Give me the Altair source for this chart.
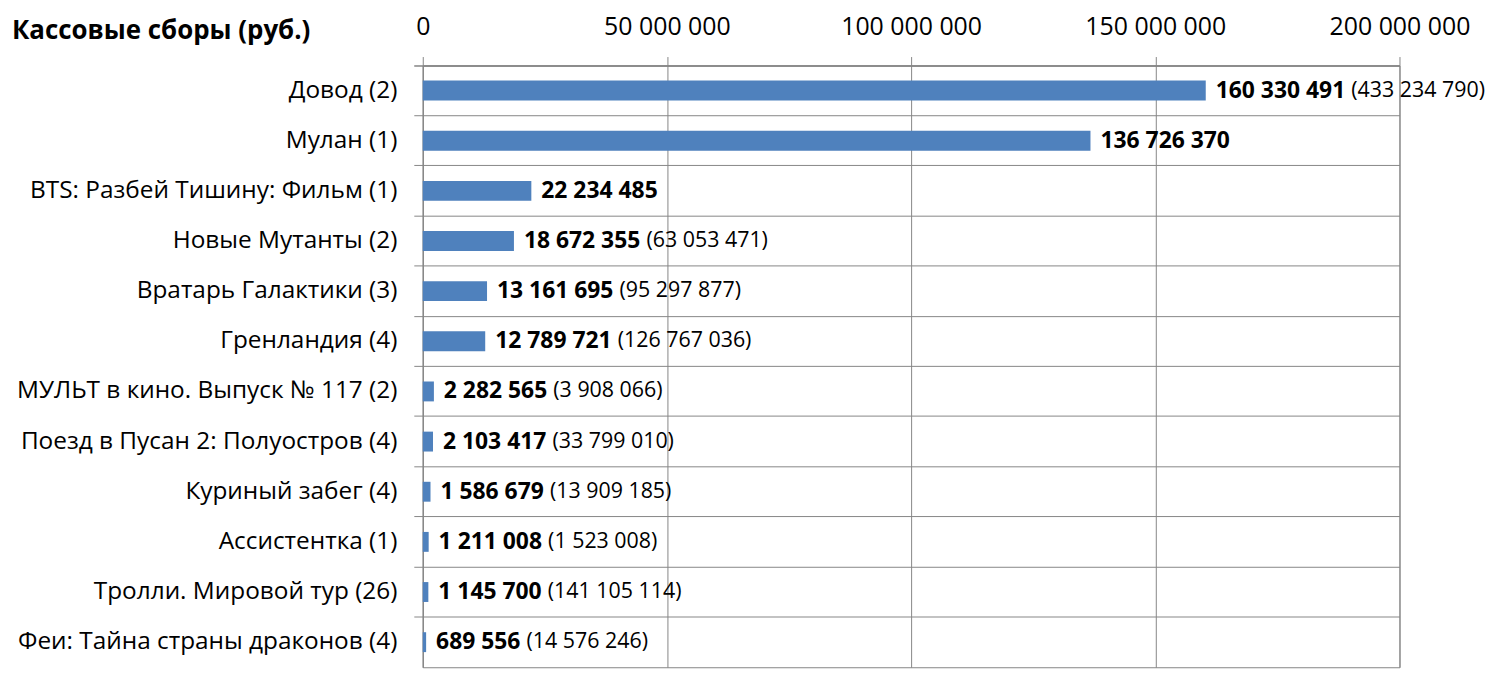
import altair as alt
import pandas as pd

films = [
    "Довод (2)",
    "Мулан (1)",
    "BTS: Разбей Тишину: Фильм (1)",
    "Новые Мутанты (2)",
    "Вратарь Галактики (3)",
    "Гренландия (4)",
    "МУЛЬТ в кино. Выпуск № 117 (2)",
    "Поезд в Пусан 2: Полуостров (4)",
    "Куриный забег (4)",
    "Ассистентка (1)",
    "Тролли. Мировой тур (26)",
    "Феи: Тайна страны драконов (4)",
]
weekend = [160330491, 136726370, 22234485, 18672355, 13161695, 12789721,
           2282565, 2103417, 1586679, 1211008, 1145700, 689556]
total = [433234790, None, None, 63053471, 95297877, 126767036,
         3908066, 33799010, 13909185, 1523008, 141105114, 14576246]
tick_values = [0, 50000000, 100000000, 150000000, 200000000]

FONT = "Open Sans"
FS_CAT = 24.5
FS_AX = 25
FS_BOLD = 23
FS_PAREN = 21.5
PLOT_W = 982
PLOT_H = 605
XMAX = 200000000
GRID = "#868686"


def fmt(v):
    return f"{v:,}".replace(",", " ")


def text_px(s, size):
    # approximate advance widths (em) for Open Sans
    w = 0.0
    for ch in s:
        if ch.isdigit():
            w += 0.572
        elif ch == " ":
            w += 0.26
        else:
            w += 0.30
    return w * size


rows = []
for f, w, t in zip(films, weekend, total):
    b = fmt(w)
    p = f"({fmt(t)})" if t else ""
    off_px = 10 + text_px(b, FS_BOLD) + 6
    rows.append({
        "film": f,
        "weekend": w,
        "bold": b,
        "paren": p,
        "paren_x": w + off_px * XMAX / PLOT_W,
    })
df = pd.DataFrame(rows)

y_enc = alt.Y(
    "film:N",
    sort=films,
    title=None,
    scale=alt.Scale(paddingInner=0, paddingOuter=0),
    axis=alt.Axis(
        bandPosition=0,
        tickExtra=True,
        grid=True,
        gridColor=GRID,
        tickColor=GRID,
        domainColor=GRID,
        tickSize=9,
        labelPadding=17,
        labelFont=FONT,
        labelFontSize=FS_CAT,
        labelColor="#000000",
        labelLimit=500,
    ),
)

x_scale = alt.Scale(domain=[0, XMAX], nice=False)

bars = alt.Chart(df).mark_bar(size=20, color="#4F81BD").encode(
    x=alt.X(
        "weekend:Q",
        scale=x_scale,
        title=None,
        axis=alt.Axis(
            orient="top",
            values=tick_values,
            labelExpr="replace(format(datum.value, ','), regexp(',', 'g'), ' ')",
            grid=True,
            gridColor=GRID,
            tickColor=GRID,
            domainColor=GRID,
            tickSize=9,
            labelPadding=17,
            labelFont=FONT,
            labelFontSize=FS_AX,
            labelColor="#000000",
            labelFlush=False,
        ),
    ),
    y=y_enc,
)

bold_text = alt.Chart(df).mark_text(
    align="left", baseline="middle", dx=10, font=FONT, fontSize=FS_BOLD,
    fontWeight="bold", color="#000000",
).encode(
    x=alt.X("weekend:Q", scale=x_scale),
    y=alt.Y("film:N", sort=films),
    text="bold:N",
)

paren_text = alt.Chart(df).mark_text(
    align="left", baseline="middle", font=FONT, fontSize=FS_PAREN, color="#000000",
).encode(
    x=alt.X("paren_x:Q", scale=x_scale),
    y=alt.Y("film:N", sort=films),
    text="paren:N",
)

chart = alt.layer(bars, bold_text, paren_text).properties(
    width=PLOT_W,
    height=PLOT_H,
    autosize=alt.AutoSizeParams(type="none"),
    padding={"left": 417, "top": 56, "right": 88, "bottom": 6},
    title=alt.TitleParams(
        "Кассовые сборы (руб.)",
        anchor="start",
        frame="group",
        orient="top",
        baseline="alphabetic",
        dx=-413,
        dy=54,
        font=FONT,
        fontSize=26,
        fontWeight="bold",
        color="#000000",
    ),
).configure_view(stroke=GRID, strokeWidth=1)

chart.save("out.html", embed_options={"renderer": "svg", "actions": False})
